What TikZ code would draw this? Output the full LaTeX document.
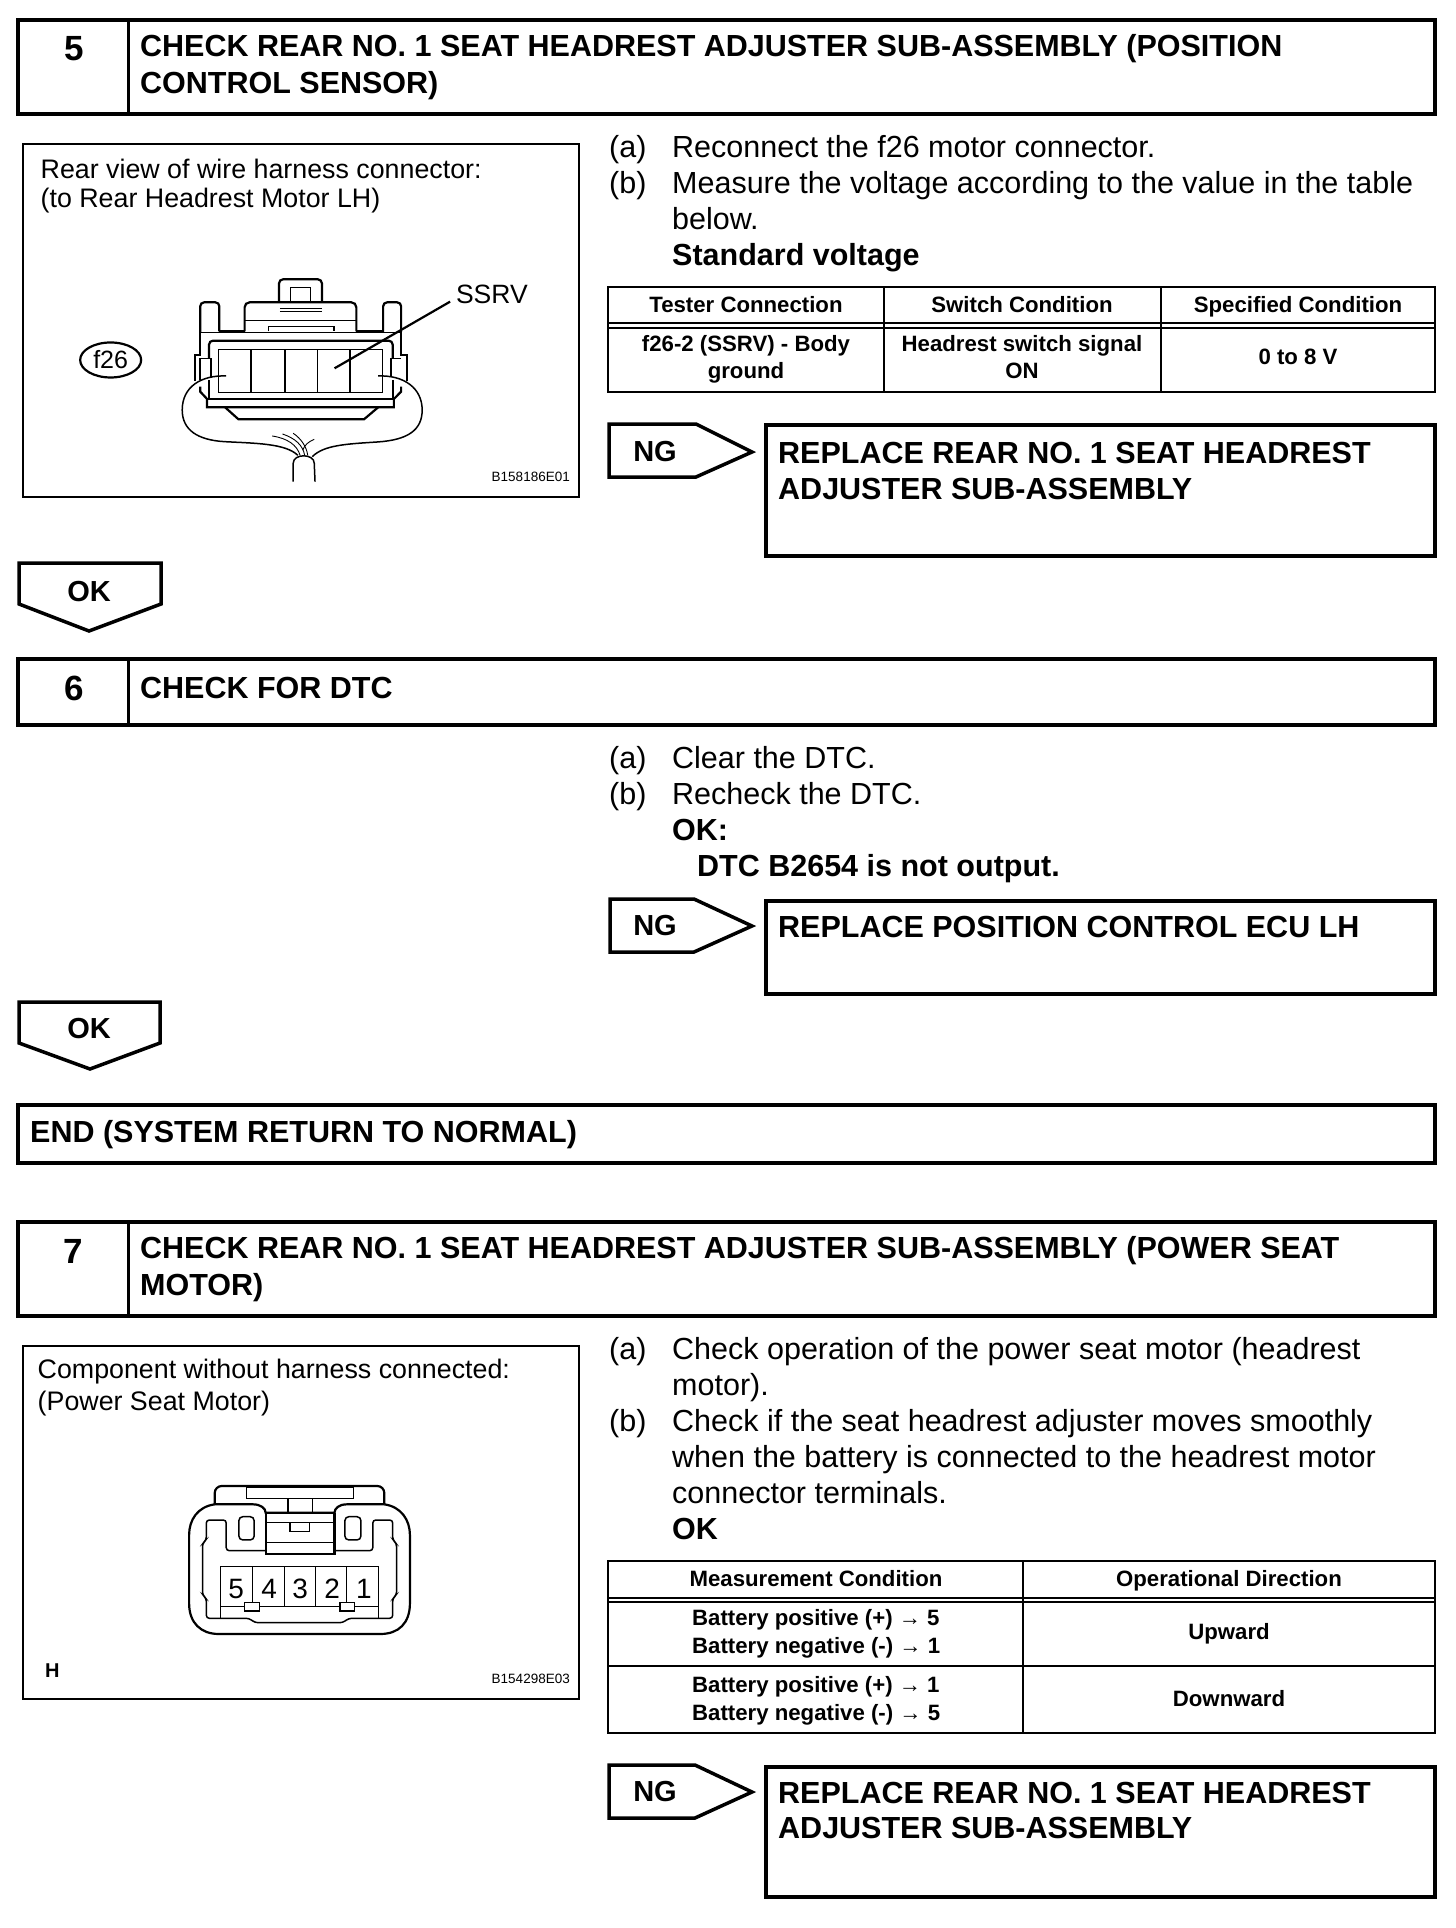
\documentclass[tikz,border=0pt]{standalone}
\usepackage{fontspec}
\usetikzlibrary{shapes.geometric}
\setmainfont{Liberation Sans}
\tikzset{
  bodytxt/.style={inner sep=0pt,anchor=base west,font=\fontsize{30.5}{36}\selectfont},
  headtxt/.style={inner sep=0pt,anchor=base west,font=\fontsize{30.5}{36}\selectfont\bfseries},
  numtxt/.style={inner sep=0pt,anchor=base,font=\fontsize{35}{40}\selectfont\bfseries},
  flagtxt/.style={inner sep=0pt,anchor=base,font=\fontsize{29}{34}\selectfont\bfseries},
  paneltxt/.style={inner sep=0pt,anchor=base west,font=\fontsize{26.8}{32}\selectfont},
  codetxt/.style={inner sep=0pt,anchor=base east,font=\fontsize{13.5}{16}\selectfont},
  tabtxt/.style={inner sep=0pt,anchor=base,font=\fontsize{22.2}{26}\selectfont\bfseries},
  tabtxtl/.style={inner sep=0pt,anchor=base west,font=\fontsize{22.2}{26}\selectfont\bfseries},
  heavy/.style={draw=black,line width=4pt,line join=miter},
  flag/.style={draw=black,line width=3.5pt,line join=miter,fill=white},
  panel/.style={draw=black,line width=2.6pt},
  tabline/.style={draw=black,line width=2.4pt},
  thinln/.style={draw=black,line width=0.9pt},
  medln/.style={draw=black,line width=1.5pt},
  strongln/.style={draw=black,line width=2.2pt},
}
\begin{document}
\begin{tikzpicture}[x=1pt,y=-1pt]
\useasboundingbox[fill=white] (0,0) rectangle (1456,1928);

% ---------- section 5
\draw[heavy] (18,20) rectangle (1435,114);
\draw[heavy,line width=3pt] (128,20) -- (128,114);
\node[numtxt] (n5) at (74,60) {5};
\node[headtxt] (h5a) at (140,56) {CHECK REAR NO. 1 SEAT HEADREST ADJUSTER SUB-ASSEMBLY (POSITION};
\node[headtxt] (h5b) at (140,93) {CONTROL SENSOR)};

\draw[panel] (23,144) rectangle (579,497);
\node[paneltxt] (p5a) at (40.5,178) {Rear view of wire harness connector:};
\node[paneltxt] (p5b) at (40.5,207) {(to Rear Headrest Motor LH)};
\node[codetxt] (c5) at (570,481) {B158186E01};

\begin{scope}[shift={(10pt,-130pt)},x=0.3827pt,y=-0.3333pt]
  % clip on top
  \draw[strongln,rounded corners=4pt] (703,517) -- (703,448) -- (815,448) -- (815,517);
  \draw[medln] (733,517) -- (733,472) -- (785,472) -- (785,517);
  \draw[medln] (705,535) -- (815,535) (705,545) -- (815,545);
  % towers
  \draw[strongln,rounded corners=4pt] (497,606) -- (497,517) -- (547,517) -- (547,604);
  \draw[strongln] (547,604) -- (613,604);
  \draw[strongln,rounded corners=5pt] (613,604) -- (613,517) -- (905,517) -- (905,604);
  \draw[strongln] (905,604) -- (975,604);
  \draw[strongln,rounded corners=4pt] (975,606) -- (975,517) -- (1022,517) -- (1022,606);
  \draw[medln] (615,572) -- (905,572);
  \draw[medln] (676,604) -- (676,590) -- (847,590) -- (847,604);
  \draw[thinln] (497,607) -- (1022,607);
  % body
  \draw[strongln] (497,606) -- (497,675) -- (483,675) -- (483,752);
  \draw[strongln] (1022,606) -- (1022,675) -- (1037,675) -- (1037,752);
  \draw[strongln] (497,770) -- (497,785) -- (515,807) -- (515,832) -- (1003,832) -- (1003,807) -- (1022,785) -- (1022,770);
  \draw[strongln,rounded corners=4pt] (520,685) -- (520,632) -- (1000,632) -- (1000,685);
  \draw[strongln] (520,750) -- (520,807) -- (1000,807) -- (1000,750);
  \draw[medln] (500,685) -- (525,685) -- (525,740) (497,685) -- (497,750);
  \draw[medln] (995,685) -- (1022,685) (995,685) -- (995,740);
  \draw[strongln] (562,832) -- (597,868) -- (925,868) -- (962,832);
  % terminals
  \draw[medln] (545,658) rectangle (973,788);
  \foreach \tx in {630,718,803,888} \draw[medln] (\tx,658) -- (\tx,788);
  % wires
  \draw[medln] (565,738) .. controls (500,735) and (450,770) .. (450,840)
     .. controls (450,900) and (490,930) .. (560,935)
     .. controls (640,940) and (720,940) .. (752,976);
  \draw[medln] (962,738) .. controls (1030,735) and (1077,775) .. (1077,840)
     .. controls (1077,900) and (1040,930) .. (960,936)
     .. controls (880,942) and (820,945) .. (790,980);
  \draw[medln] (740,1055) -- (740,1000) .. controls (740,970) and (795,970) .. (795,1000) -- (797,1055);
  \draw[thinln] (685,918) .. controls (725,925) and (750,945) .. (758,976);
  \draw[thinln] (712,912) .. controls (745,925) and (765,945) .. (770,976);
  \draw[thinln] (740,910) .. controls (760,925) and (775,950) .. (778,976);
  \draw[thinln] (795,928) .. controls (780,935) and (770,945) .. (765,960);
  % label
  \coordinate (ssrvend) at (848,715);
  \coordinate (ssrvstart) at (1150,515);
  \draw[strongln] (ssrvstart) -- (ssrvend);
  \node[inner sep=0pt,anchor=base west,font=\fontsize{26.5}{30}\selectfont] (ssrv) at (1165,522) {SSRV};
  \node[draw=black,line width=2.2pt,ellipse,minimum width=61pt,minimum height=35pt,inner sep=0pt,font=\fontsize{25}{30}\selectfont] (f26) at (263,690) {f26};
\end{scope}

\node[bodytxt] (a5a) at (609,157) {(a)};
\node[bodytxt] (a5b) at (672,157) {Reconnect the f26 motor connector.};
\node[bodytxt] (b5a) at (609,193) {(b)};
\node[bodytxt] (b5b) at (672,193) {Measure the voltage according to the value in the table};
\node[bodytxt] (b5c) at (672,229) {below.};
\node[headtxt] (b5d) at (672,265) {Standard voltage};

% table 1
\draw[tabline] (608,287) rectangle (1435,392);
\draw[tabline] (608,323) -- (1435,323) (608,328) -- (1435,328);
\draw[tabline] (884,287) -- (884,392) (1161,287) -- (1161,392);
\node[tabtxt] (t1a) at (746,312) {Tester Connection};
\node[tabtxt] (t1b) at (1022,312) {Switch Condition};
\node[tabtxt] (t1c) at (1298,312) {Specified Condition};
\node[tabtxt] (t1d) at (746,351) {f26-2 (SSRV) - Body};
\node[tabtxt] (t1e) at (746,378) {ground};
\node[tabtxt] (t1f) at (1022,351) {Headrest switch signal};
\node[tabtxt] (t1g) at (1022,378) {ON};
\node[tabtxt] (t1h) at (1298,364) {0 to 8 V};

% NG 1
\draw[flag] (609,424) -- (696,424) -- (752,452) -- (696,477) -- (609,477) -- cycle;
\node[flagtxt] (ng1) at (655,461) {NG};
\draw[heavy] (766,425) rectangle (1435,556);
\node[headtxt] (r1a) at (778,463) {REPLACE REAR NO. 1 SEAT HEADREST};
\node[headtxt] (r1b) at (778,499) {ADJUSTER SUB-ASSEMBLY};

% OK 1
\draw[flag] (19,563) -- (161,563) -- (161,604) -- (89,631) -- (19,604) -- cycle;
\node[flagtxt] (ok1) at (89,601) {OK};

% ---------- section 6
\draw[heavy] (18,659) rectangle (1435,725);
\draw[heavy,line width=3pt] (128,659) -- (128,725);
\node[numtxt] (n6) at (74,700) {6};
\node[headtxt] (h6) at (140,698) {CHECK FOR DTC};

\node[bodytxt] (a6a) at (609,768) {(a)};
\node[bodytxt] (a6b) at (672,768) {Clear the DTC.};
\node[bodytxt] (b6a) at (609,804) {(b)};
\node[bodytxt] (b6b) at (672,804) {Recheck the DTC.};
\node[headtxt] (b6c) at (672,840) {OK:};
\node[headtxt] (b6d) at (697,876) {DTC B2654 is not output.};

% NG 2
\draw[flag] (610,899) -- (694,899) -- (752,926) -- (694,952) -- (610,952) -- cycle;
\node[flagtxt] (ng2) at (655,935) {NG};
\draw[heavy] (766,901) rectangle (1435,994);
\node[headtxt] (r2) at (778,937) {REPLACE POSITION CONTROL ECU LH};

% OK 2
\draw[flag] (19,1002) -- (160,1002) -- (160,1043) -- (90,1069) -- (19,1043) -- cycle;
\node[flagtxt] (ok2) at (89,1038) {OK};

% END
\draw[heavy] (18,1105) rectangle (1435,1163);
\node[headtxt] (endt) at (30,1142) {END (SYSTEM RETURN TO NORMAL)};

% ---------- section 7
\draw[heavy] (18,1222) rectangle (1435,1316);
\draw[heavy,line width=3pt] (128,1222) -- (128,1316);
\node[numtxt] (n7) at (73,1263) {7};
\node[headtxt] (h7a) at (140,1258) {CHECK REAR NO. 1 SEAT HEADREST ADJUSTER SUB-ASSEMBLY (POWER SEAT};
\node[headtxt] (h7b) at (140,1295) {MOTOR)};

\draw[panel] (23,1346) rectangle (579,1699);
\node[paneltxt] (p7a) at (37.5,1378) {Component without harness connected:};
\node[paneltxt] (p7b) at (37.5,1410) {(Power Seat Motor)};
\node[inner sep=0pt,anchor=base west,font=\fontsize{20}{24}\selectfont\bfseries] (hh) at (45,1677) {H};
\node[codetxt] (c7) at (570,1683) {B154298E03};

\begin{scope}[shift={(10pt,-1340pt)},x=0.3827pt,y=-0.3333pt]
  % outer shell
  \draw[strongln,rounded corners=7pt] (535,493) -- (535,438) -- (978,438) -- (978,493);
  \draw[strongln] (535,493) .. controls (490,500) and (468,540) .. (468,585)
     -- (468,790) .. controls (468,850) and (500,882) .. (545,882)
     -- (968,882) .. controls (1015,882) and (1045,850) .. (1045,790)
     -- (1045,585) .. controls (1045,540) and (1022,500) .. (978,493);
  \draw[strongln] (535,493) -- (635,493) .. controls (655,493) and (668,505) .. (668,518)
     -- (848,518) .. controls (848,505) and (860,493) .. (880,493) -- (978,493);
  \draw[medln] (618,442) rectangle (897,475);
  \draw[medln] (727,475) -- (727,516) (790,475) -- (790,516);
  % centre latch
  \draw[strongln] (668,518) -- (668,643) -- (848,643) -- (848,518);
  \draw[medln] (668,548) -- (848,548) (668,607) -- (848,607);
  \draw[medln] (732,548) -- (732,575) -- (782,575) -- (782,548);
  % inner contour
  \draw[medln,rounded corners=3pt] (668,632) -- (565,632) -- (565,540) -- (513,540) -- (513,600) -- (503,610) -- (503,765) -- (513,775)
     -- (513,835) -- (625,835) -- (640,848) -- (870,848) -- (885,835) -- (1000,835) -- (1000,775) -- (1010,765) -- (1010,610)
     -- (1000,600) -- (1000,540) -- (948,540) -- (948,632) -- (848,632);
  \draw[medln,rounded corners=4pt] (598,530) rectangle (638,600);
  \draw[medln,rounded corners=4pt] (875,530) rectangle (917,600);
  % terminals
  \draw[thinln] (550,835) -- (550,680) -- (963,680) -- (963,835);
  \draw[thinln] (550,798) -- (963,798);
  \foreach \tx in {633,718,797,880} \draw[thinln] (\tx,680) -- (\tx,798);
  \draw[medln,fill=white] (613,788) rectangle (652,813);
  \draw[medln,fill=white] (862,788) rectangle (900,813);
  \node[inner sep=0pt,anchor=base,font=\fontsize{28}{32}\selectfont] (t5) at (591,775) {5};
  \node[inner sep=0pt,anchor=base,font=\fontsize{28}{32}\selectfont] (t4) at (677,775) {4};
  \node[inner sep=0pt,anchor=base,font=\fontsize{28}{32}\selectfont] (t3) at (758,775) {3};
  \node[inner sep=0pt,anchor=base,font=\fontsize{28}{32}\selectfont] (t2) at (842,775) {2};
  \node[inner sep=0pt,anchor=base,font=\fontsize{28}{32}\selectfont] (t1) at (925,775) {1};
\end{scope}

\node[bodytxt] (a7a) at (609,1359) {(a)};
\node[bodytxt] (a7b) at (672,1359) {Check operation of the power seat motor (headrest};
\node[bodytxt] (a7c) at (672,1395) {motor).};
\node[bodytxt] (b7a) at (609,1431) {(b)};
\node[bodytxt] (b7b) at (672,1431) {Check if the seat headrest adjuster moves smoothly};
\node[bodytxt] (b7c) at (672,1467) {when the battery is connected to the headrest motor};
\node[bodytxt] (b7d) at (672,1503) {connector terminals.};
\node[headtxt] (b7e) at (672,1539) {OK};

% table 2
\draw[tabline] (608,1561) rectangle (1435,1733);
\draw[tabline] (608,1598) -- (1435,1598) (608,1602) -- (1435,1602);
\draw[tabline] (608,1666) -- (1435,1666);
\draw[tabline] (1023,1561) -- (1023,1733);
\node[tabtxt] (t2a) at (816,1586) {Measurement Condition};
\node[tabtxt] (t2b) at (1229,1586) {Operational Direction};
\node[tabtxtl] (t2c) at (692,1625) {Battery positive (+) {\mdseries→} 5};
\node[tabtxtl] (t2d) at (692,1653) {Battery negative (-) {\mdseries→} 1};
\node[tabtxt] (t2e) at (1229,1639) {Upward};
\node[tabtxtl] (t2f) at (692,1692) {Battery positive (+) {\mdseries→} 1};
\node[tabtxtl] (t2g) at (692,1720) {Battery negative (-) {\mdseries→} 5};
\node[tabtxt] (t2h) at (1229,1706) {Downward};

% NG 3
\draw[flag] (609,1765) -- (695,1765) -- (752,1792) -- (695,1818) -- (609,1818) -- cycle;
\node[flagtxt] (ng3) at (655,1801) {NG};
\draw[heavy] (766,1767) rectangle (1435,1897);
\node[headtxt] (r3a) at (778,1803) {REPLACE REAR NO. 1 SEAT HEADREST};
\node[headtxt] (r3b) at (778,1838) {ADJUSTER SUB-ASSEMBLY};
\end{tikzpicture}
\end{document}
